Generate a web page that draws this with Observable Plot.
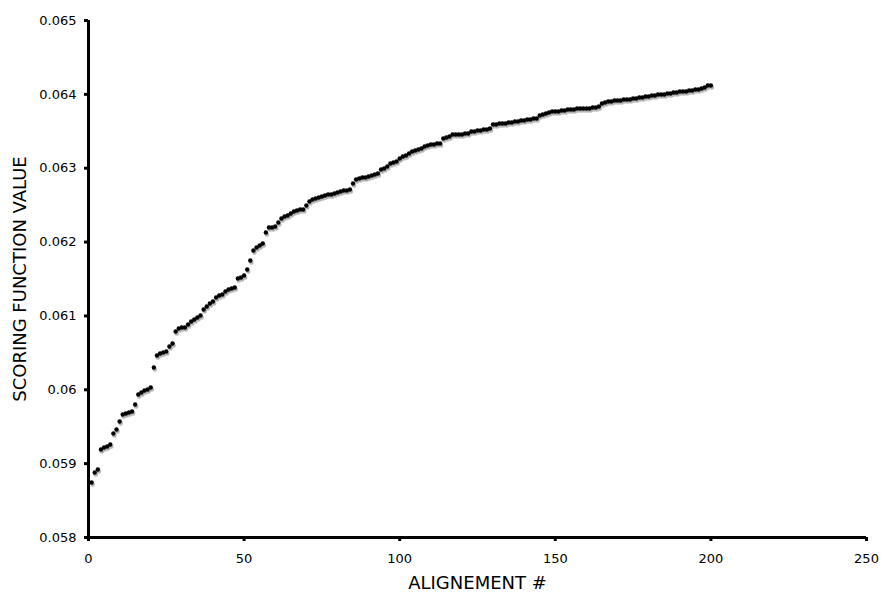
<!DOCTYPE html>
<html><head><meta charset="utf-8">
<script src="https://cdn.jsdelivr.net/npm/d3@7"></script>
<script src="https://cdn.jsdelivr.net/npm/@observablehq/plot@0.6"></script>
<style>body{margin:0;background:#fff;} svg{display:block;}</style>
</head><body><div id="chart"></div>
<script>
// Scoring function value for alignment #1..#200
const scores = [
0.058745,0.05888,0.058921,0.059192,0.059219,0.059232,0.059259,0.059408,0.059462,0.059571,
0.059665,0.059679,0.059693,0.059706,0.059801,0.059936,0.059963,0.05999,0.060004,0.060031,
0.060302,0.060464,0.060491,0.060505,0.060518,0.060586,0.060627,0.060789,0.06083,0.060843,
0.060843,0.060884,0.060925,0.060952,0.060979,0.061006,0.061087,0.061128,0.061168,0.061195,
0.06125,0.061277,0.06129,0.061331,0.061358,0.061371,0.061385,0.061507,0.06152,0.061547,
0.061629,0.061751,0.061886,0.061927,0.061954,0.061981,0.06213,0.062197,0.062197,0.062211,
0.062265,0.062319,0.062346,0.06236,0.062387,0.062414,0.062428,0.062441,0.062441,0.062495,
0.062549,0.062577,0.06259,0.062604,0.062617,0.062631,0.062644,0.062644,0.062658,0.062671,
0.062685,0.062698,0.062698,0.062712,0.062793,0.062847,0.062861,0.062874,0.062874,0.062888,
0.062901,0.062915,0.062929,0.062983,0.062996,0.063023,0.063064,0.063078,0.063091,0.063132,
0.063159,0.063172,0.063199,0.063226,0.06324,0.063254,0.063267,0.063294,0.063308,0.063321,
0.063321,0.063335,0.063335,0.063402,0.063416,0.06343,0.063457,0.063457,0.063457,0.063457,
0.06347,0.06347,0.063497,0.063497,0.063511,0.063511,0.063524,0.063524,0.063538,0.063592,
0.063592,0.063606,0.063606,0.063606,0.063619,0.063619,0.063633,0.063633,0.063646,0.063646,
0.06366,0.06366,0.063673,0.063673,0.063714,0.063727,0.063741,0.063755,0.063768,0.063768,
0.063768,0.063782,0.063782,0.063795,0.063795,0.063795,0.063809,0.063809,0.063809,0.063809,
0.063809,0.063822,0.063822,0.063836,0.063876,0.06389,0.063903,0.063903,0.063917,0.063917,
0.063917,0.063931,0.063931,0.063931,0.063944,0.063944,0.063958,0.063958,0.063971,0.063971,
0.063985,0.063985,0.063998,0.063998,0.063998,0.064012,0.064012,0.064025,0.064025,0.064039,
0.064039,0.064039,0.064052,0.064052,0.064066,0.064066,0.06408,0.064093,0.06412,0.06412
];
const xTicks = [0, 50, 100, 150, 200, 250];
const yTicks = [0.058, 0.059, 0.060, 0.061, 0.062, 0.063, 0.064, 0.065];
const yTickLabels = ["0.058", "0.059", "0.06", "0.061", "0.062", "0.063", "0.064", "0.065"];
const xTitle = "ALIGNEMENT #";
const yTitle = "SCORING FUNCTION VALUE";

const points = scores.map((v, i) => ({n: i + 1, v}));

const chart = Plot.plot({
  width: 882,
  height: 595,
  marginLeft: 88,
  marginRight: 16,
  marginTop: 20,
  marginBottom: 58,
  style: {fontFamily: "DejaVu Sans", background: "#fff", color: "#000"},
  x: {domain: [0, 250]},
  y: {domain: [0.058, 0.065]},
  marks: [
    Plot.axisX({ticks: xTicks, tickSize: 4, tickPadding: 12, strokeWidth: 3, fontSize: 13, label: null, tickFormat: d => String(d)}),
    Plot.axisY({ticks: yTicks, tickSize: 4, tickPadding: 8, strokeWidth: 3, fontSize: 13, label: null,
      tickFormat: d => yTickLabels[yTicks.findIndex(t => Math.abs(t - d) < 1e-9)]}),
    Plot.ruleX([0], {stroke: "#000", strokeWidth: 3}),
    Plot.ruleY([0.058], {stroke: "#000", strokeWidth: 3}),
    Plot.dot(points, {x: "n", y: "v", r: 2.3, fill: "#b5b5b5", stroke: "none", dx: 1, dy: 2}),
    Plot.dot(points, {x: "n", y: "v", r: 2.2, fill: "#000", stroke: "none"}),
    Plot.text([xTitle], {frameAnchor: "bottom", dy: 45.5, lineAnchor: "middle", textAnchor: "middle", fontSize: 18, fill: "#000", text: d => d}),
    Plot.text([yTitle], {frameAnchor: "left", dx: -68, rotate: -90, lineAnchor: "middle", textAnchor: "middle", fontSize: 18, fill: "#000", text: d => d})
  ]
});
document.getElementById("chart").appendChild(chart);
</script>
</body></html>
